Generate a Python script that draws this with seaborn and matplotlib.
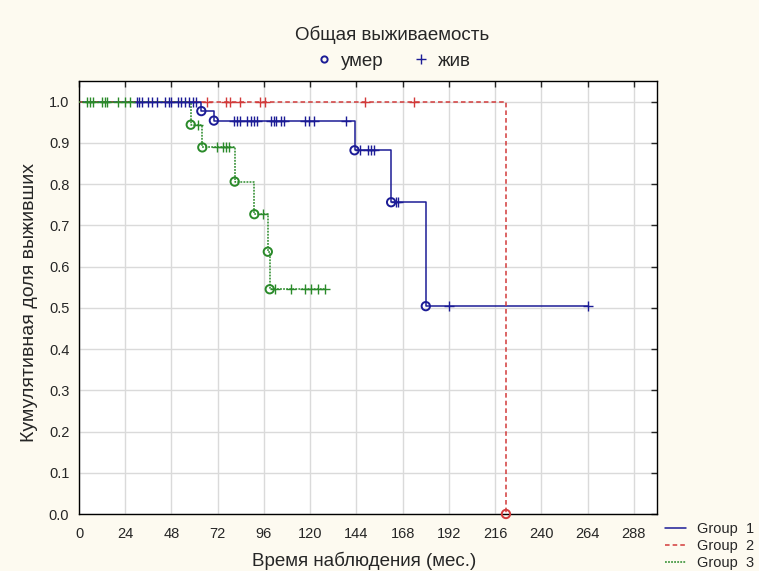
import numpy as np
import pandas as pd
import matplotlib
matplotlib.use("Agg")
import matplotlib.pyplot as plt
import seaborn as sns
from matplotlib.lines import Line2D

sns.set_style("white")
plt.rcParams["font.family"] = ["Liberation Sans", "DejaVu Sans"]

# ---------------- data ----------------
groups = ["Group  1", "Group  2", "Group  3"]
colors = {"Group  1": "#1c1c96", "Group  2": "#d23a3a", "Group  3": "#2a8a2a"}

# Group 1
g1_death_t = [63.5, 70.0, 143.0, 162.0, 180.0]
g1_death_s = [0.977, 0.954, 0.882, 0.756, 0.504]
g1_cens_t = [30, 31, 32.5, 36, 38, 40.5, 44.5, 46.5, 48, 51.5, 53, 55, 57, 59, 60.5,
             80.5, 82, 83.5, 87, 89.5, 91, 92.5, 99.5, 101, 102.5, 105, 106.5,
             117.5, 119.5, 122, 138.5, 146, 150, 151.6, 153.3, 164.6, 165.8,
             192.2, 264]
g1_end = 264

# Group 2
g2_death_t = [221.6]
g2_death_s = [0.0]
g2_cens_t = [66.5, 76.5, 78.2, 83.4, 93.8, 96.4, 148.2, 174.1]
g2_end = 221.6

# Group 3
g3_death_t = [58.0, 64.0, 80.8, 91.0, 98.0, 99.0]
g3_death_s = [0.944, 0.889, 0.806, 0.727, 0.636, 0.545]
g3_cens_t = [4, 5.7, 7.4, 11.7, 13.5, 14.3, 20.4, 23.8, 26.4,
             61.8, 71.5, 74.5, 76.5, 78, 95.5,
             101.6, 110.2, 117.1, 120.6, 124, 127.5]
g3_end = 127.5

x_ticks = list(range(0, 289, 24))
y_ticks = [round(v * 0.1, 1) for v in range(11)]

title = "Общая выживаемость"
xlabel = "Время наблюдения (мес.)"
ylabel = "Кумулятивная доля выживших"
lbl_dead = "умер"
lbl_alive = "жив"

# ---------------- build tables ----------------
spec = {
    "Group  1": (g1_death_t, g1_death_s, g1_cens_t, g1_end),
    "Group  2": (g2_death_t, g2_death_s, g2_cens_t, g2_end),
    "Group  3": (g3_death_t, g3_death_s, g3_cens_t, g3_end),
}


def level_at(t, dt, ds):
    s = 1.0
    for a, b in zip(dt, ds):
        if t >= a:
            s = b
    return s


curve_rows, death_rows, cens_rows = [], [], []
for g, (dt, ds, ct, end) in spec.items():
    ts = [0.0] + list(dt) + [end]
    ss = [1.0] + list(ds) + [ds[-1]]
    for t, s in zip(ts, ss):
        curve_rows.append({"time": t, "surv": s, "group": g})
    for t, s in zip(dt, ds):
        death_rows.append({"time": t, "surv": s, "group": g})
    for t in ct:
        cens_rows.append({"time": t, "surv": level_at(t, dt, ds), "group": g})

curves = pd.DataFrame(curve_rows)
deaths = pd.DataFrame(death_rows)
cens = pd.DataFrame(cens_rows)

# ---------------- figure ----------------
W, H = 759, 571
fig = plt.figure(figsize=(W / 100, H / 100), dpi=100, facecolor="#fdfaf0")
L, R, T, B = 79, 657, 81, 514
ax = fig.add_axes([L / W, 1 - B / H, (R - L) / W, (B - T) / H])
ax.set_facecolor("white")

dashes = {"Group  1": "", "Group  2": (3, 2), "Group  3": (1.2, 0.8)}
sns.lineplot(data=curves, x="time", y="surv", hue="group", style="group",
             palette=colors, dashes=dashes, drawstyle="steps-post",
             estimator=None, sort=False, legend=False, linewidth=1.1, ax=ax,
             zorder=3)

for g in groups:
    c = colors[g]
    sub = cens[cens.group == g]
    sns.scatterplot(x=sub["time"], y=sub["surv"], marker="+", s=50,
                    color=c, linewidth=1.0, ax=ax, zorder=4, legend=False)
    sub = deaths[deaths.group == g]
    sns.scatterplot(x=sub["time"], y=sub["surv"], marker="o", s=36,
                    color=c, linewidth=1.4, ax=ax, zorder=5, legend=False,
                    clip_on=False)

# make death circles hollow
for coll in ax.collections:
    paths = coll.get_paths()
    if len(paths) and len(paths[0].vertices) > 10:
        ec = coll.get_facecolor()
        coll.set_edgecolor(ec)
        coll.set_facecolor("none")

ax.set_xlim(0, 300)
ax.set_ylim(0, 1.05)
ax.set_xticks(x_ticks)
ax.set_yticks(y_ticks)
ax.set_yticklabels([f"{v:.1f}" for v in y_ticks])
ax.grid(True, color="#dadada", linewidth=1.0)
ax.set_axisbelow(True)
for sp in ax.spines.values():
    sp.set_color("black")
    sp.set_linewidth(1.0)
ax.tick_params(axis="both", direction="in", length=4, width=1, labelsize=10.5,
               top=True, right=True, labeltop=False, labelright=False)
ax.tick_params(axis="x", pad=9)
ax.tick_params(axis="y", pad=7)
ax.set_xlabel("")
ax.set_ylabel("")
fig.text(364 / W, 1 - 561 / H, xlabel, ha="center", va="center", fontsize=13.5)
fig.text(30 / W, 1 - 303 / H, ylabel, ha="center", va="center",
         rotation=90, fontsize=14)

fig.text(392 / W, 1 - 35 / H, title, ha="center", va="center", fontsize=13.5)
mk_handles = [
    Line2D([], [], linestyle="none", marker="o", markersize=4.5, markerfacecolor="none",
           markeredgecolor="#1c1c96", markeredgewidth=1.4),
    Line2D([], [], linestyle="none", marker="+", markersize=7,
           markeredgecolor="#1c1c96", markeredgewidth=1.0),
]
fig.legend(mk_handles, [lbl_dead, lbl_alive], loc="center", ncol=2,
           bbox_to_anchor=(394 / W, 1 - 61 / H), frameon=False, fontsize=13.5,
           handlelength=0.8, handletextpad=0.5, columnspacing=1.6)

grp_handles = [
    Line2D([], [], color=colors["Group  1"], linewidth=1.1),
    Line2D([], [], color=colors["Group  2"], linewidth=1.1, dashes=(3, 2)),
    Line2D([], [], color=colors["Group  3"], linewidth=1.1, dashes=(1.2, 0.8)),
]
fig.legend(grp_handles, groups, loc="upper left",
           bbox_to_anchor=(665 / W, 1 - 522 / H), frameon=False, fontsize=10.5,
           handlelength=1.45, handletextpad=0.75, labelspacing=0.2,
           borderaxespad=0, borderpad=0)

fig.savefig("out.png", dpi=100, facecolor=fig.get_facecolor())
